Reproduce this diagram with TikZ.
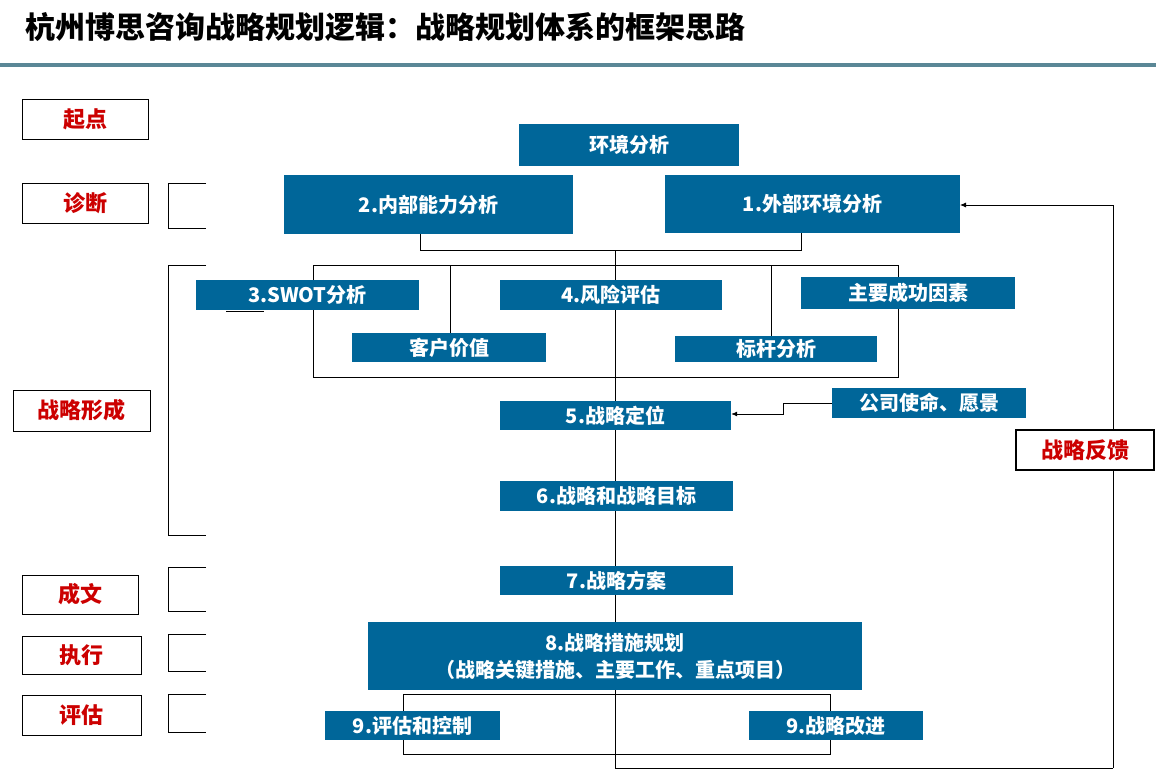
\documentclass[tikz,border=0pt]{standalone}
\usepackage{fontspec}
\usetikzlibrary{arrows.meta}
\setmainfont{Noto Sans CJK SC}
\begin{document}
\begin{tikzpicture}[x=1pt,y=-1pt,
  blu/.style={fill={rgb,255:red,0;green,102;blue,153},text=white,font=\bfseries\fontsize{20}{27}\selectfont,inner sep=0pt,align=center},
  lab/.style={draw=black,line width=0.8pt,fill=white,text={rgb,255:red,204;green,0;blue,0},font=\bfseries\fontsize{22}{26}\selectfont,inner sep=0pt},
  ln/.style={line width=0.8pt,draw=black},
  arr/.style={ln,-{Latex[length=6pt,width=5pt]}}]
\useasboundingbox (0,0) rectangle (1156,772);
\node[anchor=west,font=\bfseries\fontsize{30}{34}\selectfont] (title) at (22,27) {杭州博思咨询战略规划逻辑：战略规划体系的框架思路};
\draw[line width=4pt,draw={rgb,255:red,90;green,135;blue,150}] (0,65) coordinate (r1) -- (1156,65) coordinate (r2);
% connectors (behind boxes)
\coordinate (tl) at (420,250); \coordinate (tr) at (801,250);
\draw[ln] (420,234) -- (tl) -- (tr) -- (801,233);
\draw[ln] (615,250) -- (615,768) -- (1113,768) coordinate (fb);
\draw[arr] (fb) -- (1113,205) -- (960,205);
\draw[ln] (313,265) rectangle (898,377);
\draw[ln] (450,265) -- (450,333);
\draw[ln] (771,265) -- (771,336);
\draw[ln] (226,311) -- (264,311);
\draw[ln] (403,694) rectangle (830,754);
% brackets
\foreach \a/\b in {183/228,265/535,567/611,634/671,694/732}
  \draw[line width=0.6pt] (206,\a) -- (168,\a) -- (168,\b) -- (206,\b);
% blue boxes
\node[blu,minimum width=220pt,minimum height=42pt] (env) at (629,145) {环境分析};
\node[blu,minimum width=289pt,minimum height=59pt] (n2) at (428.5,204.5) {2.内部能力分析};
\node[blu,minimum width=295pt,minimum height=58pt] (n1) at (812.5,204) {1.外部环境分析};
\node[blu,minimum width=223pt,minimum height=30pt] (n3) at (307.5,295) {3.SWOT分析};
\node[blu,minimum width=222pt,minimum height=30pt] (n4) at (611,295) {4.风险评估};
\node[blu,minimum width=214pt,minimum height=32pt] (ksf) at (908,293) {主要成功因素};
\node[blu,minimum width=194pt,minimum height=29pt] (cv) at (449,347.5) {客户价值};
\node[blu,minimum width=202pt,minimum height=26pt] (bm) at (776,349) {标杆分析};
\node[blu,minimum width=231pt,minimum height=29pt] (n5) at (615.5,415.5) {5.战略定位};
\node[blu,minimum width=194pt,minimum height=30pt] (mv) at (929,403) {公司使命、愿景};
\node[blu,minimum width=233pt,minimum height=30pt] (n6) at (616.5,496) {6.战略和战略目标};
\node[blu,minimum width=233pt,minimum height=29pt] (n7) at (616.5,580.5) {7.战略方案};
\node[blu,minimum width=494pt,minimum height=68pt] (n8) at (615,656) {8.战略措施规划\\（战略关键措施、主要工作、重点项目）};
\node[blu,minimum width=175pt,minimum height=29pt] (n9a) at (412.5,725.5) {9.评估和控制};
\node[blu,minimum width=174pt,minimum height=29pt] (n9b) at (836,725.5) {9.战略改进};
\draw[arr] (mv.west) -- (783,403) -- (783,414) -- (n5.east |- 0,414);
% left labels
\node[lab,minimum width=126pt,minimum height=40pt] (l1) at (85,119) {起点};
\node[lab,minimum width=126pt,minimum height=40pt] (l2) at (85,203) {诊断};
\node[lab,minimum width=137pt,minimum height=41pt] (l3) at (81.5,410.5) {战略形成};
\node[lab,minimum width=116pt,minimum height=39pt] (l4) at (80,594.5) {成文};
\node[lab,minimum width=119pt,minimum height=38pt] (l5) at (81.5,655) {执行};
\node[lab,minimum width=119pt,minimum height=40pt] (l6) at (81.5,715) {评估};
\node[lab,minimum width=138pt,minimum height=40pt,line width=1.2pt] (fbk) at (1085,450) {战略反馈};
\end{tikzpicture}
\end{document}
